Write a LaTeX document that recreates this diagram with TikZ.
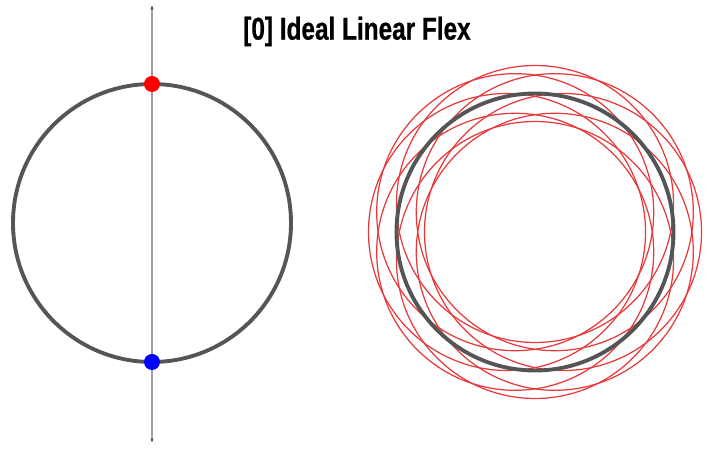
\documentclass[tikz,border=0pt]{standalone}
\usepackage{fontspec}
\usepackage{tikz}
\usetikzlibrary{calc, arrows.meta}
\usepackage{tkz-euclide}
\usepackage{xcolor}
\newfontfamily\titlefont[FakeStretch=0.77, FakeBold=0.6]{Liberation Sans}
\definecolor{ringgray}{HTML}{555555}
\definecolor{axisgray}{HTML}{A0A0A0}
\definecolor{flexred}{HTML}{E8383A}

\begin{document}
\begin{tikzpicture}[scale = 1.0]
            \useasboundingbox (0,0) rectangle (14.28,8.98);
            \tikzset{ring/.style = {ringgray, line width = 2.2pt},
                     flexring/.style = {flexred, line width = 0.7pt},
                     axis/.style = {axisgray, line width = 1.1pt,
                        {Latex[length=2.5pt, width=2pt, black!70]}-{Latex[length=2.5pt, width=2pt, black!70]}},
                     title/.style = {font = \titlefont\bfseries\fontsize{18}{20}\selectfont}}
            % left ring with its axis
            \tkzDefPoints{3.04/4.52/O, 5.82/4.52/A, 3.04/8.88/U, 3.04/0.12/D}
            \tkzDefPointBy[rotation= center O angle 90](A) \tkzGetPoint{P}
            \tkzDefPointBy[rotation= center O angle -90](A) \tkzGetPoint{Q}
            \draw[axis] (U) -- (D);
            \tkzDrawCircle[ring](O,A)
            \fill[red] (P) circle (0.16);
            \fill[blue] (Q) circle (0.16);
            % right ring, shifted copies
            \tkzDefPoints{10.70/4.34/C, 13.47/4.34/R, 11.26/4.34/S}
            \foreach \a in {0,45,...,315}{
                \tkzDefPointBy[rotation= center C angle \a](S) \tkzGetPoint{S\a}
                \tkzDefPointBy[translation= from C to S\a](R) \tkzGetPoint{R\a}
                \tkzDrawCircle[flexring](S\a,R\a)
            }
            \tkzDrawCircle[ring](C,R)
            \node[title] (T) at (7.14,8.35) {[0] Ideal Linear Flex};
        \end{tikzpicture}
\end{document}
